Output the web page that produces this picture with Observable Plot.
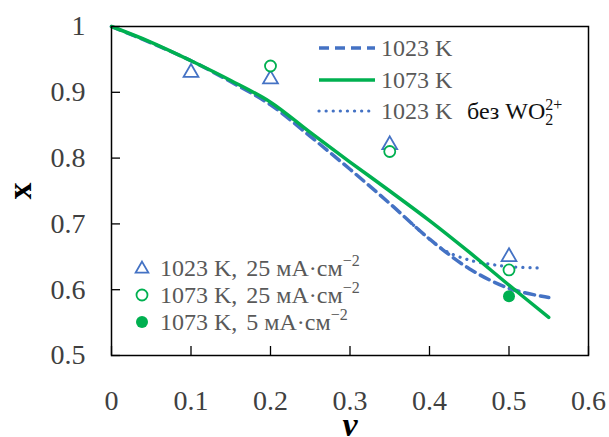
<!DOCTYPE html>
<html>
<head>
<meta charset="utf-8">
<script src="https://cdn.jsdelivr.net/npm/d3@7"></script>
<script src="https://cdn.jsdelivr.net/npm/@observablehq/plot@0.6"></script>
<style>
  html, body { margin: 0; padding: 0; background: #fff; }
</style>
</head>
<body>
<div id="chart"></div>
<script>
// Model curves
const vGrid   = [0, 0.05, 0.1, 0.15, 0.2, 0.25, 0.3, 0.35, 0.4, 0.45, 0.5, 0.55];
const x1023   = [1, 0.975, 0.948, 0.916, 0.881, 0.833, 0.783, 0.731, 0.677, 0.632, 0.602, 0.588];
const x1073   = [1, 0.976, 0.948, 0.918, 0.885, 0.839, 0.794, 0.750, 0.705, 0.657, 0.607, 0.558];
const vNoWO2  = [0.38, 0.4, 0.42, 0.45, 0.48, 0.5, 0.54];
const xNoWO2  = [0.698, 0.677, 0.659, 0.645, 0.638, 0.635, 0.633];

// Experimental points
const vExp1023_25 = [0.1, 0.2, 0.35, 0.5];
const xExp1023_25 = [0.93, 0.92, 0.82, 0.65];
const vExp1073_25 = [0.2, 0.35, 0.5];
const xExp1073_25 = [0.94, 0.81, 0.63];
const vExp1073_5  = [0.5];
const xExp1073_5  = [0.59];

// Axis ticks
const xTicks = [0, 0.1, 0.2, 0.3, 0.4, 0.5, 0.6];
const yTicks = [0.5, 0.6, 0.7, 0.8, 0.9, 1];

const blue = "#4472C4";
const green = "#00B050";

const zip = (a, b) => a.map((v, i) => ({v, x: b[i]}));

const chart = Plot.plot({
  width: 609,
  height: 437,
  marginLeft: 111,
  marginRight: 21,
  marginTop: 26,
  marginBottom: 82,
  style: {fontFamily: "Liberation Serif, Times New Roman, serif", fontSize: "28px", background: "#fff", color: "#404040"},
  x: {domain: [0, 0.6]},
  y: {domain: [0.5, 1]},
  marks: [
    Plot.axisX({ticks: xTicks, tickSize: -9, tickPadding: 44, tickFormat: d => String(d), label: null, stroke: "#000", strokeWidth: 1.3}),
    Plot.axisY({ticks: yTicks, tickSize: -9, tickPadding: 35, tickFormat: d => String(d), label: null, stroke: "#000", strokeWidth: 1.3}),
    Plot.line(zip(vNoWO2, xNoWO2), {x: "v", y: "x", stroke: blue, strokeWidth: 3.2, strokeDasharray: "0.1 7", strokeLinecap: "round", curve: "catmull-rom"}),
    Plot.line(zip(vGrid, x1023), {x: "v", y: "x", stroke: blue, strokeWidth: 3.5, strokeDasharray: "10 6", curve: "catmull-rom"}),
    Plot.line(zip(vGrid, x1073), {x: "v", y: "x", stroke: green, strokeWidth: 3.5, curve: "catmull-rom"}),
    Plot.dot(zip(vExp1023_25, xExp1023_25), {x: "v", y: "x", symbol: "triangle", r: 5.5, stroke: blue, strokeWidth: 1.8, fill: "none"}),
    Plot.dot(zip(vExp1073_25, xExp1073_25), {x: "v", y: "x", symbol: "circle", r: 5.5, stroke: green, strokeWidth: 1.8, fill: "#fff"}),
    Plot.dot(zip(vExp1073_5, xExp1073_5), {x: "v", y: "x", symbol: "circle", r: 6, fill: green, stroke: "none"}),
    Plot.frame({stroke: "#000", strokeWidth: 1.5}),
    Plot.text(["x"], {frameAnchor: "left", textAnchor: "middle", lineAnchor: "middle", dx: -91, rotate: -90, text: d => d, fontWeight: "bold", fontSize: 34, fill: "#000"}),
    Plot.text(["v"], {frameAnchor: "bottom", textAnchor: "middle", lineAnchor: "middle", dy: 70, text: d => d, fontWeight: "bold", fontStyle: "italic", fontSize: 34, fill: "#000"})
  ]
});

document.getElementById("chart").appendChild(chart);

// Legends (layout only)
const svg = d3.select(chart);
const fam = "Liberation Serif, Times New Roman, serif";
const gray = "#595959";

const lg1 = svg.append("g").attr("font-family", fam).attr("font-size", 24).attr("text-anchor", "start");
const rows1 = [
  {label: "1023 K", y: 48, stroke: blue, dash: "10 6", w: 3.5, cap: "butt"},
  {label: "1073 K", y: 80, stroke: green, dash: null, w: 3.5, cap: "butt"},
  {label: "1023 K", y: 111, stroke: blue, dash: "0.1 7", w: 3.2, cap: "round", extra: true}
];
rows1.forEach(r => {
  lg1.append("line").attr("x1", 319).attr("x2", 375).attr("y1", r.y).attr("y2", r.y)
    .attr("stroke", r.stroke).attr("stroke-width", r.w)
    .attr("stroke-dasharray", r.dash).attr("stroke-linecap", r.cap);
  lg1.append("text").attr("x", 381).attr("y", r.y).attr("dy", "0.35em").attr("fill", gray).text(r.label);
  if (r.extra) {
    const t2 = lg1.append("text").attr("x", 467).attr("y", r.y).attr("dy", "0.35em").attr("fill", "#111");
    t2.append("tspan").text("без WO");
    t2.append("tspan").attr("font-size", 16).attr("dy", 6).text("2");
    t2.append("tspan").attr("font-size", 16).attr("dx", -8).attr("dy", -15).text("2+");
  }
});

const lg2 = svg.append("g").attr("font-family", fam).attr("font-size", 24).attr("text-anchor", "start");
const rows2 = [
  {a: "1023 K,", b: "25 мА·см", y: 268, sym: "tri"},
  {a: "1073 K,", b: "25 мА·см", y: 295, sym: "open"},
  {a: "1073 K,", b: "5 мА·см", y: 322, sym: "fill"}
];
rows2.forEach(r => {
  if (r.sym === "tri") {
    lg2.append("path").attr("d", d3.symbol(d3.symbolTriangle, 70)()).attr("transform", `translate(142,${r.y + 1})`)
      .attr("fill", "none").attr("stroke", blue).attr("stroke-width", 1.8);
  } else if (r.sym === "open") {
    lg2.append("circle").attr("cx", 142).attr("cy", r.y).attr("r", 5.5).attr("fill", "#fff").attr("stroke", green).attr("stroke-width", 1.8);
  } else {
    lg2.append("circle").attr("cx", 142).attr("cy", r.y).attr("r", 6).attr("fill", green);
  }
  const t = lg2.append("text").attr("x", 160).attr("y", r.y).attr("dy", "0.35em").attr("fill", gray);
  t.append("tspan").text(r.a + " ");
  t.append("tspan").attr("dx", 3).text(r.b);
  t.append("tspan").attr("font-size", 16).attr("dy", -10).text("−2");
});
</script>
</body>
</html>
